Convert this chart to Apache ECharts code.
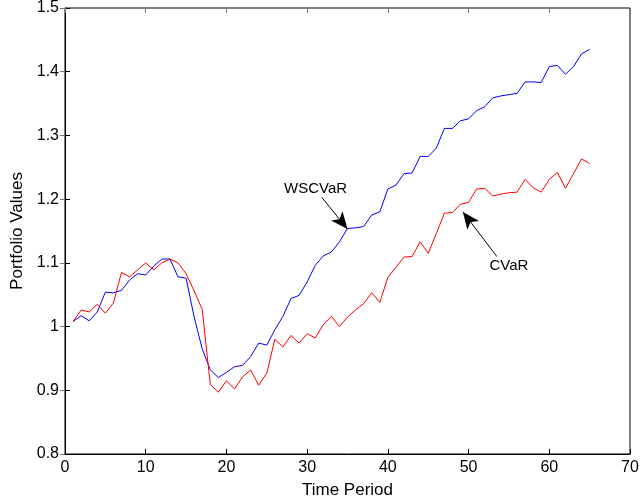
<!DOCTYPE html>
<html>
<head>
<meta charset="utf-8">
<script src="https://cdn.jsdelivr.net/npm/echarts@6/dist/echarts.min.js"></script>
<style>
  html, body { margin: 0; padding: 0; background: #fff; }
  #chart { width: 640px; height: 500px; }
</style>
</head>
<body>
<div id="chart"></div>
<script>
// Time periods 1..65
const periods = [];
for (let t = 1; t <= 65; t++) periods.push(t);

// Portfolio values, worst-case CVaR strategy
const wscvar = [
  1.008, 1.017, 1.009, 1.023, 1.054, 1.053, 1.057, 1.073, 1.083, 1.081,
  1.095, 1.106, 1.106, 1.078, 1.076, 1.015, 0.965, 0.932, 0.920, 0.928,
  0.937, 0.939, 0.953, 0.974, 0.971, 0.995, 1.016, 1.044, 1.049, 1.070,
  1.096, 1.111, 1.117, 1.133, 1.154, 1.155, 1.157, 1.175, 1.180, 1.216,
  1.222, 1.240, 1.241, 1.267, 1.267, 1.280, 1.311, 1.311, 1.323, 1.326,
  1.339, 1.345, 1.359, 1.362, 1.364, 1.366, 1.384, 1.384, 1.383, 1.408,
  1.410, 1.396, 1.408, 1.428, 1.435
];

// Portfolio values, CVaR strategy
const cvar = [
  1.008, 1.026, 1.023, 1.035, 1.021, 1.037, 1.085, 1.078, 1.089, 1.100,
  1.089, 1.100, 1.106, 1.100, 1.083, 1.056, 1.027, 0.909, 0.897, 0.915,
  0.902, 0.921, 0.932, 0.908, 0.927, 0.980, 0.968, 0.986, 0.974, 0.989,
  0.982, 1.003, 1.016, 1.000, 1.015, 1.026, 1.036, 1.053, 1.038, 1.077,
  1.093, 1.109, 1.110, 1.133, 1.115, 1.146, 1.178, 1.179, 1.192, 1.195,
  1.216, 1.217, 1.205, 1.208, 1.210, 1.211, 1.231, 1.218, 1.211, 1.231,
  1.242, 1.217, 1.240, 1.263, 1.256
];

// Annotation anchors in data coordinates: [text, arrow tail, arrow tip]
const wscvarNote = { text: 'WSCVaR', label: [31.05, 1.216], tail: [31.8, 1.203], tip: [35.0, 1.153] };
const cvarNote   = { text: 'CVaR',   label: [55.0, 1.095],  tail: [53.5, 1.110], tip: [49.3, 1.180] };

const FONT = 'Liberation Sans, Arial, Helvetica, sans-serif';

function pairs(xs, ys) { return xs.map((x, i) => [x, ys[i]]); }

function note(n) {
  return {
    markLine: {
      silent: true,
      animation: false,
      symbol: ['none', 'arrow'],
      symbolSize: [11, 17],
      lineStyle: { color: '#000', width: 1, type: 'solid' },
      label: { show: false },
      emphasis: { disabled: true },
      data: [[{ coord: n.tail }, { coord: n.tip }]]
    },
    markPoint: {
      silent: true,
      animation: false,
      symbol: 'circle',
      symbolSize: 0,
      label: { show: true, position: 'inside', formatter: n.text, color: '#000', fontSize: 15, fontFamily: FONT },
      data: [{ coord: n.label }]
    }
  };
}

const tickStyle = { show: true, inside: true, length: 5, lineStyle: { color: '#000', width: 1 } };
const mirrorTick = { show: true, inside: true, length: 5, lineStyle: { color: '#777', width: 1 } };

const chart = echarts.init(document.getElementById('chart'), null, { renderer: 'canvas' });
chart.setOption({
  animation: false,
  backgroundColor: '#fff',
  textStyle: { fontFamily: FONT },
  grid: {
    left: 65, right: 10, top: 8, bottom: 46,
    outerBoundsMode: 'none', containLabel: false,
    show: true, borderColor: '#000', borderWidth: 1, backgroundColor: 'transparent'
  },
  xAxis: [
    {
      type: 'value', min: 0, max: 70, interval: 10,
      name: 'Time Period', nameLocation: 'middle', nameGap: 28,
      nameTextStyle: { color: '#000', fontSize: 17, fontFamily: FONT },
      axisLine: { show: true, lineStyle: { color: '#000', width: 1 } },
      axisTick: tickStyle,
      axisLabel: { color: '#000', fontSize: 16, fontFamily: FONT, margin: 6 },
      splitLine: { show: false }
    },
    {
      type: 'value', min: 0, max: 70, interval: 10, position: 'top',
      axisLine: { show: false }, axisTick: mirrorTick,
      axisLabel: { show: false }, splitLine: { show: false }
    }
  ],
  yAxis: [
    {
      type: 'value', min: 0.8, max: 1.5, interval: 0.1,
      name: 'Portfolio Values', nameLocation: 'middle', nameGap: 38,
      nameTextStyle: { color: '#000', fontSize: 17, fontFamily: FONT },
      axisLine: { show: true, lineStyle: { color: '#000', width: 1 } },
      axisTick: tickStyle,
      axisLabel: {
        color: '#000', fontSize: 16, fontFamily: FONT, margin: 6,
        formatter: v => String(Math.round(v * 10) / 10)
      },
      splitLine: { show: false }
    },
    {
      type: 'value', min: 0.8, max: 1.5, interval: 0.1, position: 'right',
      axisLine: { show: false }, axisTick: mirrorTick,
      axisLabel: { show: false }, splitLine: { show: false }
    }
  ],
  series: [
    Object.assign({
      name: 'WSCVaR', type: 'line', data: pairs(periods, wscvar),
      showSymbol: false, symbol: 'none',
      lineStyle: { color: '#0000ff', width: 1 },
      itemStyle: { color: '#0000ff' },
      emphasis: { disabled: true }
    }, note(wscvarNote)),
    Object.assign({
      name: 'CVaR', type: 'line', data: pairs(periods, cvar),
      showSymbol: false, symbol: 'none',
      lineStyle: { color: '#ff0000', width: 1 },
      itemStyle: { color: '#ff0000' },
      emphasis: { disabled: true }
    }, note(cvarNote))
  ]
});
</script>
</body>
</html>
